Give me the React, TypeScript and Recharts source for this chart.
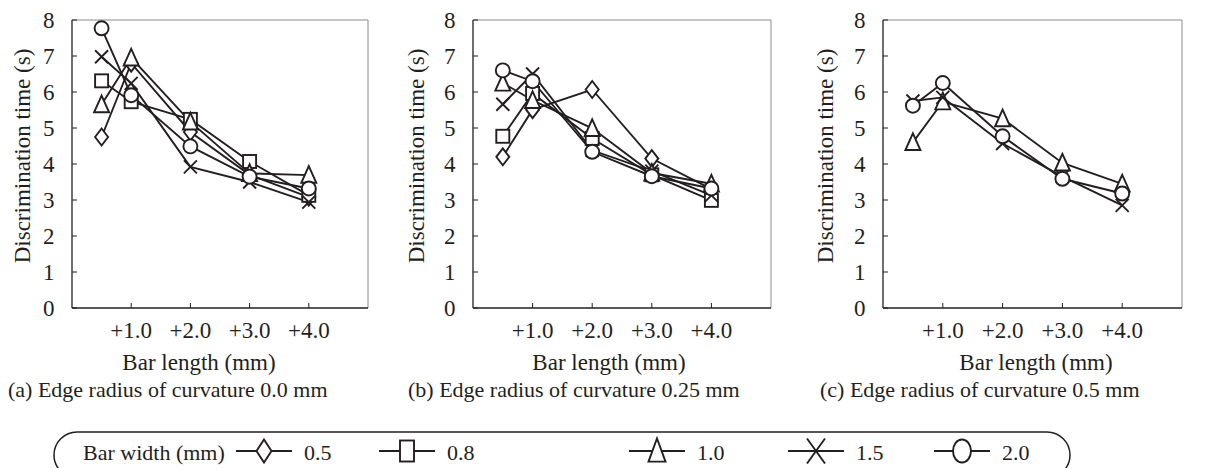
import { LineChart, Line, XAxis, YAxis, ReferenceLine } from "recharts";

// x positions: first point is +0.5 (not labelled on the axis)
const xValues = [0.5, 1, 2, 3, 4];
const xTicks = [1, 2, 3, 4];
const xTickLabels = ["+1.0", "+2.0", "+3.0", "+4.0"];
const yTicks = [0, 1, 2, 3, 4, 5, 6, 7, 8];
const widthLabels = ["0.5", "0.8", "1.0", "1.5", "2.0"];
const markerKinds = ["diamond", "square", "triangle", "cross", "circle"];

// (a) edge radius 0.0 mm
const a05 = [4.75, 6.8, 4.89, 3.7, 3.08];
const a08 = [6.31, 5.73, 5.24, 4.07, 3.13];
const a10 = [5.65, 6.95, 5.17, 3.74, 3.69];
const a15 = [6.98, 6.24, 3.92, 3.5, 2.94];
const a20 = [7.77, 5.91, 4.49, 3.65, 3.32];

// (b) edge radius 0.25 mm
const b05 = [4.2, 5.51, 6.07, 4.15, 3.3];
const b08 = [4.77, 5.96, 4.71, 3.7, 2.99];
const b10 = [6.25, 5.77, 4.99, 3.75, 3.45];
const b15 = [5.66, 6.5, 4.38, 3.8, 3.13];
const b20 = [6.6, 6.3, 4.34, 3.66, 3.32];

// (c) edge radius 0.5 mm
const c10 = [4.6, 5.73, 5.26, 4.03, 3.45];
const c15 = [5.75, 5.85, 4.57, 3.65, 2.85];
const c20 = [5.62, 6.25, 4.77, 3.59, 3.18];

const captions = [
  "(a) Edge radius of curvature 0.0 mm",
  "(b) Edge radius of curvature 0.25 mm",
  "(c) Edge radius of curvature 0.5 mm",
];

const ink = "#231f20";
const font = "'Liberation Serif', 'Times New Roman', serif";
const fs = 23;

type Kind = string;

function Marker({ kind, cx, cy, w, h }: { kind: Kind; cx: number; cy: number; w: number; h: number }) {
  const common = { fill: "#fff", stroke: ink, strokeWidth: 1.9 };
  if (kind === "diamond")
    return <polygon points={`${cx},${cy - h} ${cx + w},${cy} ${cx},${cy + h} ${cx - w},${cy}`} {...common} />;
  if (kind === "square") return <rect x={cx - w} y={cy - h} width={w * 2} height={h * 2} {...common} />;
  if (kind === "triangle")
    return <polygon points={`${cx},${cy - h} ${cx + w},${cy + h * 0.85} ${cx - w},${cy + h * 0.85}`} {...common} />;
  if (kind === "cross")
    return (
      <g stroke={ink} strokeWidth={1.9}>
        <line x1={cx - w} y1={cy - h} x2={cx + w} y2={cy + h} />
        <line x1={cx - w} y1={cy + h} x2={cx + w} y2={cy - h} />
      </g>
    );
  return <ellipse cx={cx} cy={cy} rx={w} ry={h} {...common} />;
}

const dotSize: Record<string, [number, number]> = {
  diamond: [6.5, 8.5],
  square: [6.5, 6.5],
  triangle: [7.5, 9],
  cross: [6.5, 6.5],
  circle: [7, 7],
};

function Panel({
  series,
  left,
  axisW,
  plotW,
  titleX,
}: {
  series: (number[] | null)[];
  left: number;
  axisW: number;
  plotW: number;
  titleX: number;
}) {
  const data = xValues.map((x, i) => {
    const row: Record<string, number> = { x };
    series.forEach((s, k) => {
      if (s) row["w" + k] = s[i];
    });
    return row;
  });
  const width = axisW + plotW + 20;
  return (
    <div style={{ position: "absolute", left, top: 0 }}>
      <LineChart width={width} height={348} data={data} margin={{ top: 20, right: 20, bottom: 0, left: 0 }}>
        <XAxis
          dataKey="x"
          type="number"
          domain={[0, 5]}
          ticks={xTicks}
          interval={0}
          height={40}
          tickFormatter={(v: number) => xTickLabels[xTicks.indexOf(v)] ?? ""}
          axisLine={{ stroke: ink, strokeWidth: 1.3 }}
          tickLine={{ stroke: ink, strokeWidth: 1 }}
          tickSize={-5}
          tickMargin={19}
          tick={{ fontSize: fs, fill: ink, fontFamily: font }}
        />
        <YAxis
          type="number"
          domain={[0, 8]}
          ticks={yTicks}
          interval={0}
          width={axisW}
          axisLine={{ stroke: ink, strokeWidth: 1.3 }}
          tickLine={{ stroke: ink, strokeWidth: 1 }}
          tickSize={-5}
          tickMargin={22.5}
          tick={{ fontSize: fs, fill: ink, fontFamily: font }}
          label={(p: any) => {
            const vb = p.viewBox || { y: 20, height: 288 };
            const cy = vb.y + vb.height / 2 - 8;
            return (
              <text
                x={titleX}
                y={cy}
                transform={`rotate(-90 ${titleX} ${cy})`}
                textAnchor="middle"
                fontSize={fs}
                fontFamily={font}
                fill={ink}
              >
                Discrimination time (s)
              </text>
            );
          }}
        />
        <ReferenceLine y={8} stroke="#8a8a8a" strokeWidth={1} />
        <ReferenceLine x={5} stroke="#8a8a8a" strokeWidth={1} />
        {series.map((s, k) =>
          s ? (
            <Line
              key={k}
              type="linear"
              dataKey={"w" + k}
              stroke={ink}
              strokeWidth={1.9}
              isAnimationActive={false}
              dot={(p: any) => {
                const kind = markerKinds[k];
                const [w, h] = dotSize[kind];
                if (p.cx == null || p.cy == null) return <g key={`${k}-${p.index}`} />;
                return (
                  <g key={`${k}-${p.index}`}>
                    <Marker kind={kind} cx={p.cx} cy={p.cy} w={w} h={h} />
                  </g>
                );
              }}
              activeDot={false}
            />
          ) : null
        )}
      </LineChart>
    </div>
  );
}

const legendSize: Record<string, [number, number]> = {
  diamond: [7.5, 11.5],
  square: [7, 10.5],
  triangle: [8.5, 12.5],
  cross: [9, 12.5],
  circle: [9, 11.5],
};
const legendCenters = [264, 407, 657, 816, 962];

export default function App() {
  return (
    <div style={{ position: "absolute", left: 0, top: 0, width: 1209, height: 468, background: "#fff", overflow: "hidden" }}>
      <Panel series={[a05, a08, a10, a15, a20]} left={0} axisW={72} plotW={296} titleX={30} />
      <Panel series={[b05, b08, b10, b15, b20]} left={400} axisW={73} plotW={298} titleX={24} />
      <Panel series={[null, null, c10, c15, c20]} left={810} axisW={73} plotW={299} titleX={23} />
      <svg
        width={1209}
        height={468}
        style={{ position: "absolute", left: 0, top: 0, pointerEvents: "none" }}
        fontFamily={font}
        fontSize={22}
        fill={ink}
      >
        {[199, 609, 1036].map((x, i) => (
          <text key={"t" + i} x={x} y={370} textAnchor="middle" fontSize={fs}>
            Bar length (mm)
          </text>
        ))}
        {[8, 408, 820].map((x, i) => (
          <text key={"c" + i} x={x} y={397}>
            {captions[i]}
          </text>
        ))}
        <rect x={54} y={432} width={1016} height={46} rx={23} fill="none" stroke={ink} strokeWidth={1.5} />
        <text x={83} y={460}>
          Bar width (mm)
        </text>
        {markerKinds.map((kind, i) => {
          const cx = legendCenters[i];
          const [w, h] = legendSize[kind];
          return (
            <g key={kind}>
              <line x1={cx - 28} x2={cx + 28} y1={451} y2={451} stroke={ink} strokeWidth={2} />
              <Marker kind={kind} cx={cx} cy={451} w={w} h={h} />
              <text x={cx + 40} y={460}>
                {widthLabels[i]}
              </text>
            </g>
          );
        })}
      </svg>
    </div>
  );
}
